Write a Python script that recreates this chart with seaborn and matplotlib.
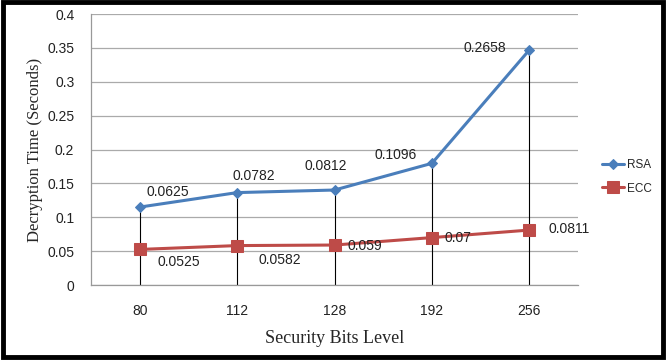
import numpy as np
import pandas as pd
import matplotlib.pyplot as plt
import seaborn as sns
from matplotlib.patches import Rectangle

bits = ['80', '112', '128', '192', '256']
rsa = [0.0625, 0.0782, 0.0812, 0.1096, 0.2658]
ecc = [0.0525, 0.0582, 0.059, 0.07, 0.0811]

# the chart is stacked: RSA drawn on top of ECC
pos = np.arange(len(bits))
rsa_top = np.array(ecc) + np.array(rsa)
df = pd.DataFrame({'pos': pos, 'RSA': rsa_top, 'ECC': ecc})

sns.set_theme(style="white")
plt.rcParams['font.family'] = ['Liberation Sans', 'DejaVu Sans']

fig = plt.figure(figsize=(6.67, 3.61), dpi=100)
ax = fig.add_axes([0.1364, 0.2105, 0.7302, 0.7507])

ax.vlines(pos, 0, rsa_top, color='black', lw=0.8, zorder=1)
sns.lineplot(data=df, x='pos', y='RSA', ax=ax, color='#4A7EBB', lw=2.2,
             marker='D', markersize=5.5, markeredgecolor='#4A7EBB', label='RSA', zorder=3)
sns.lineplot(data=df, x='pos', y='ECC', ax=ax, color='#BE4B48', lw=2.2,
             marker='s', markersize=9, markeredgecolor='#BE4B48', label='ECC', zorder=3)

rsa_off = [(28, 15), (17, 17), (-9, 24), (-36, 8), (-45, 2)]
for x, y, v, o in zip(pos, rsa_top, rsa, rsa_off):
    ax.annotate(f'{v:g}', (x, y), textcoords='offset pixels', xytext=o,
                ha='center', va='center', fontsize=10, color='#222222')
ecc_off = [(39, -13), (43, -14), (30, -1), (26, 0), (40, 1)]
for x, y, v, o in zip(pos, ecc, ecc, ecc_off):
    ax.annotate(f'{v:g}', (x, y), textcoords='offset pixels', xytext=o,
                ha='center', va='center', fontsize=10, color='#222222')

ax.set_xlim(-0.5, len(bits) - 0.5)
ax.set_ylim(0, 0.4)
ax.set_xticks(pos)
ax.set_xticklabels(bits)
yt = np.arange(0, 0.41, 0.05)
ax.set_yticks(yt)
ax.set_yticklabels([f'{v:g}' for v in np.round(yt, 2)])
ax.tick_params(axis='y', length=4, color='#999999', labelsize=10, labelcolor='#222222', pad=8)
ax.tick_params(axis='x', length=0, labelsize=10, labelcolor='#222222', pad=14)
ax.grid(axis='y', color='#AAAAAA', lw=0.9)
for s in ['top', 'right']:
    ax.spines[s].set_visible(False)
for s in ['left', 'bottom']:
    ax.spines[s].set_color('#999999')
    ax.spines[s].set_linewidth(0.9)

ax.set_xlabel('Security Bits Level', family=['Liberation Serif'], fontsize=13, labelpad=8)
ax.set_ylabel('Decryption Time (Seconds)', family=['Liberation Serif'], fontsize=12, labelpad=3)

ax.legend(loc='center left', bbox_to_anchor=(1.05, 0.40), frameon=False, fontsize=8.5,
          handlelength=1.8, handletextpad=0.3, labelspacing=1.0, borderpad=0, borderaxespad=0)

fig.patches.append(Rectangle((0.004, 0.012), 0.99, 0.982, transform=fig.transFigure,
                             fill=False, edgecolor='black', lw=3.5))

fig.savefig('out.png', dpi=100)
